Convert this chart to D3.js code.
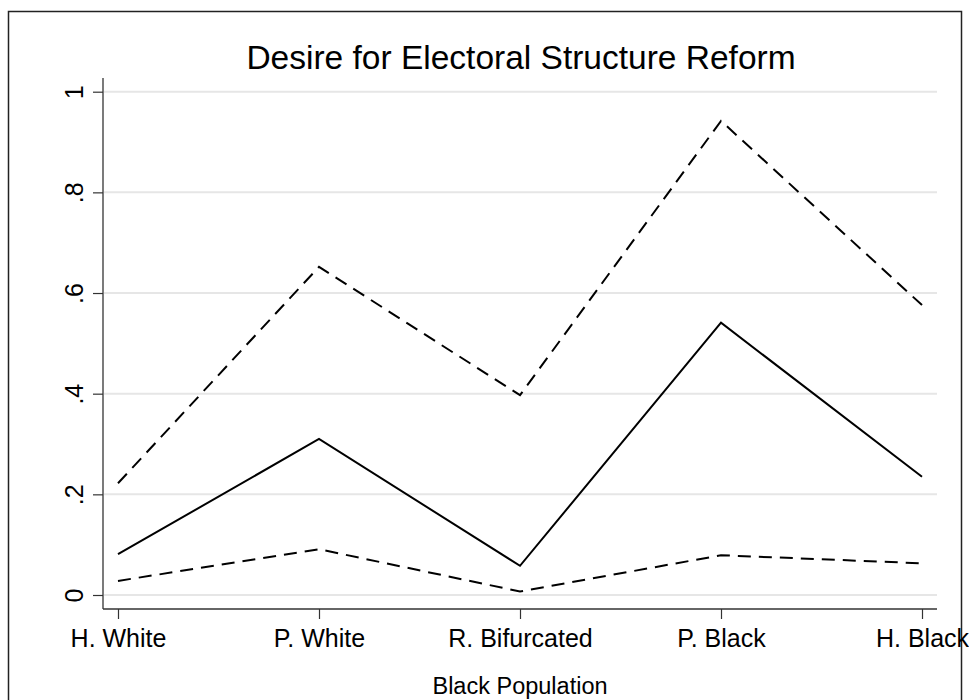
<!DOCTYPE html>
<html>
<head>
<meta charset="utf-8">
<script src="https://cdn.jsdelivr.net/npm/d3@7"></script>
<style>
  body { margin: 0; background: #fff; }
  svg text { font-family: "Liberation Sans", Arial, sans-serif; fill: #000; }
</style>
</head>
<body>
<svg id="chart" width="969" height="700"></svg>
<script>
// values
var categories = ['H. White', 'P. White', 'R. Bifurcated', 'P. Black', 'H. Black'];
var upper = [0.222, 0.652, 0.397, 0.942, 0.576];
var mean  = [0.081, 0.310, 0.058, 0.541, 0.235];
var lower = [0.028, 0.091, 0.007, 0.079, 0.063];
var yTicks = [0, 0.2, 0.4, 0.6, 0.8, 1];

var title = 'Desire for Electoral Structure Reform';
var xTitle = 'Black Population';

var svg = d3.select('#chart');

// plot region (don't call it "top", that's window.top)
var plotL = 103, plotR = 937, plotT = 78, plotB = 609;

// outer graph border
svg.append('rect')
    .attr('x', 8.5).attr('y', 11.5)
    .attr('width', 953).attr('height', 710)
    .attr('fill', 'none')
    .attr('stroke', '#222')
    .attr('stroke-width', 1.5);

var x = d3.scalePoint()
    .domain(categories)
    .range([plotL, plotR])
    .padding(0.0746);

var y = d3.scaleLinear()
    .domain([0, 1])
    .range([595, 91.7]);

// gridlines
svg.append('g')
    .selectAll('line')
    .data(yTicks)
    .enter().append('line')
        .attr('x1', plotL + 1).attr('x2', plotR)
        .attr('y1', d => y(d)).attr('y2', d => y(d))
        .attr('stroke', '#e6e6e6')
        .attr('stroke-width', 2);

var fmt = function(d) {
    if (d === 0) return '0';
    if (d === 1) return '1';
    return d3.format('.1f')(d).replace(/^0/, '');
};

// y axis
var yAxis = svg.append('g')
    .attr('transform', 'translate(' + plotL + ',0)')
    .call(d3.axisLeft(y).tickValues(yTicks).tickFormat(fmt).tickSize(10).tickSizeOuter(0));
yAxis.select('.domain').remove();
yAxis.append('line')
    .attr('x1', 0).attr('x2', 0)
    .attr('y1', plotT).attr('y2', plotB)
    .attr('stroke', '#333').attr('stroke-width', 1.3);
yAxis.selectAll('.tick line').attr('stroke', '#333').attr('stroke-width', 1.2);
yAxis.selectAll('.tick text')
    .attr('x', null).attr('dy', null)
    .attr('transform', 'translate(-20,0) rotate(-90)')
    .attr('text-anchor', 'middle')
    .attr('font-size', 25)
    .style('font-family', '"Liberation Sans", Arial, sans-serif')
    .attr('fill', '#000');

// x axis
var xAxis = svg.append('g')
    .attr('transform', 'translate(0,' + plotB + ')')
    .call(d3.axisBottom(x).tickSize(10).tickSizeOuter(0));
xAxis.select('.domain').remove();
xAxis.append('line')
    .attr('x1', plotL).attr('x2', plotR)
    .attr('y1', 0).attr('y2', 0)
    .attr('stroke', '#333').attr('stroke-width', 1.3);
xAxis.selectAll('.tick line').attr('stroke', '#333').attr('stroke-width', 1.2);
xAxis.selectAll('.tick text')
    .attr('y', 38).attr('dy', null)
    .attr('font-size', 25)
    .style('font-family', '"Liberation Sans", Arial, sans-serif')
    .attr('fill', '#000');

// series
var line = d3.line()
    .x((d, i) => x(categories[i]))
    .y(d => y(d));

var series = [
    { values: upper, dash: '13,8' },
    { values: mean,  dash: null },
    { values: lower, dash: '13,8' }
];

svg.append('g')
    .selectAll('path')
    .data(series)
    .enter().append('path')
        .attr('d', d => line(d.values))
        .attr('fill', 'none')
        .attr('stroke', '#000')
        .attr('stroke-width', 2)
        .attr('stroke-dasharray', d => d.dash);

// titles
svg.append('text')
    .attr('x', 521).attr('y', 69)
    .attr('text-anchor', 'middle')
    .attr('font-size', 33.5)
    .text(title);

svg.append('text')
    .attr('x', 520).attr('y', 694)
    .attr('text-anchor', 'middle')
    .attr('font-size', 23.5)
    .text(xTitle);
</script>
</body>
</html>
